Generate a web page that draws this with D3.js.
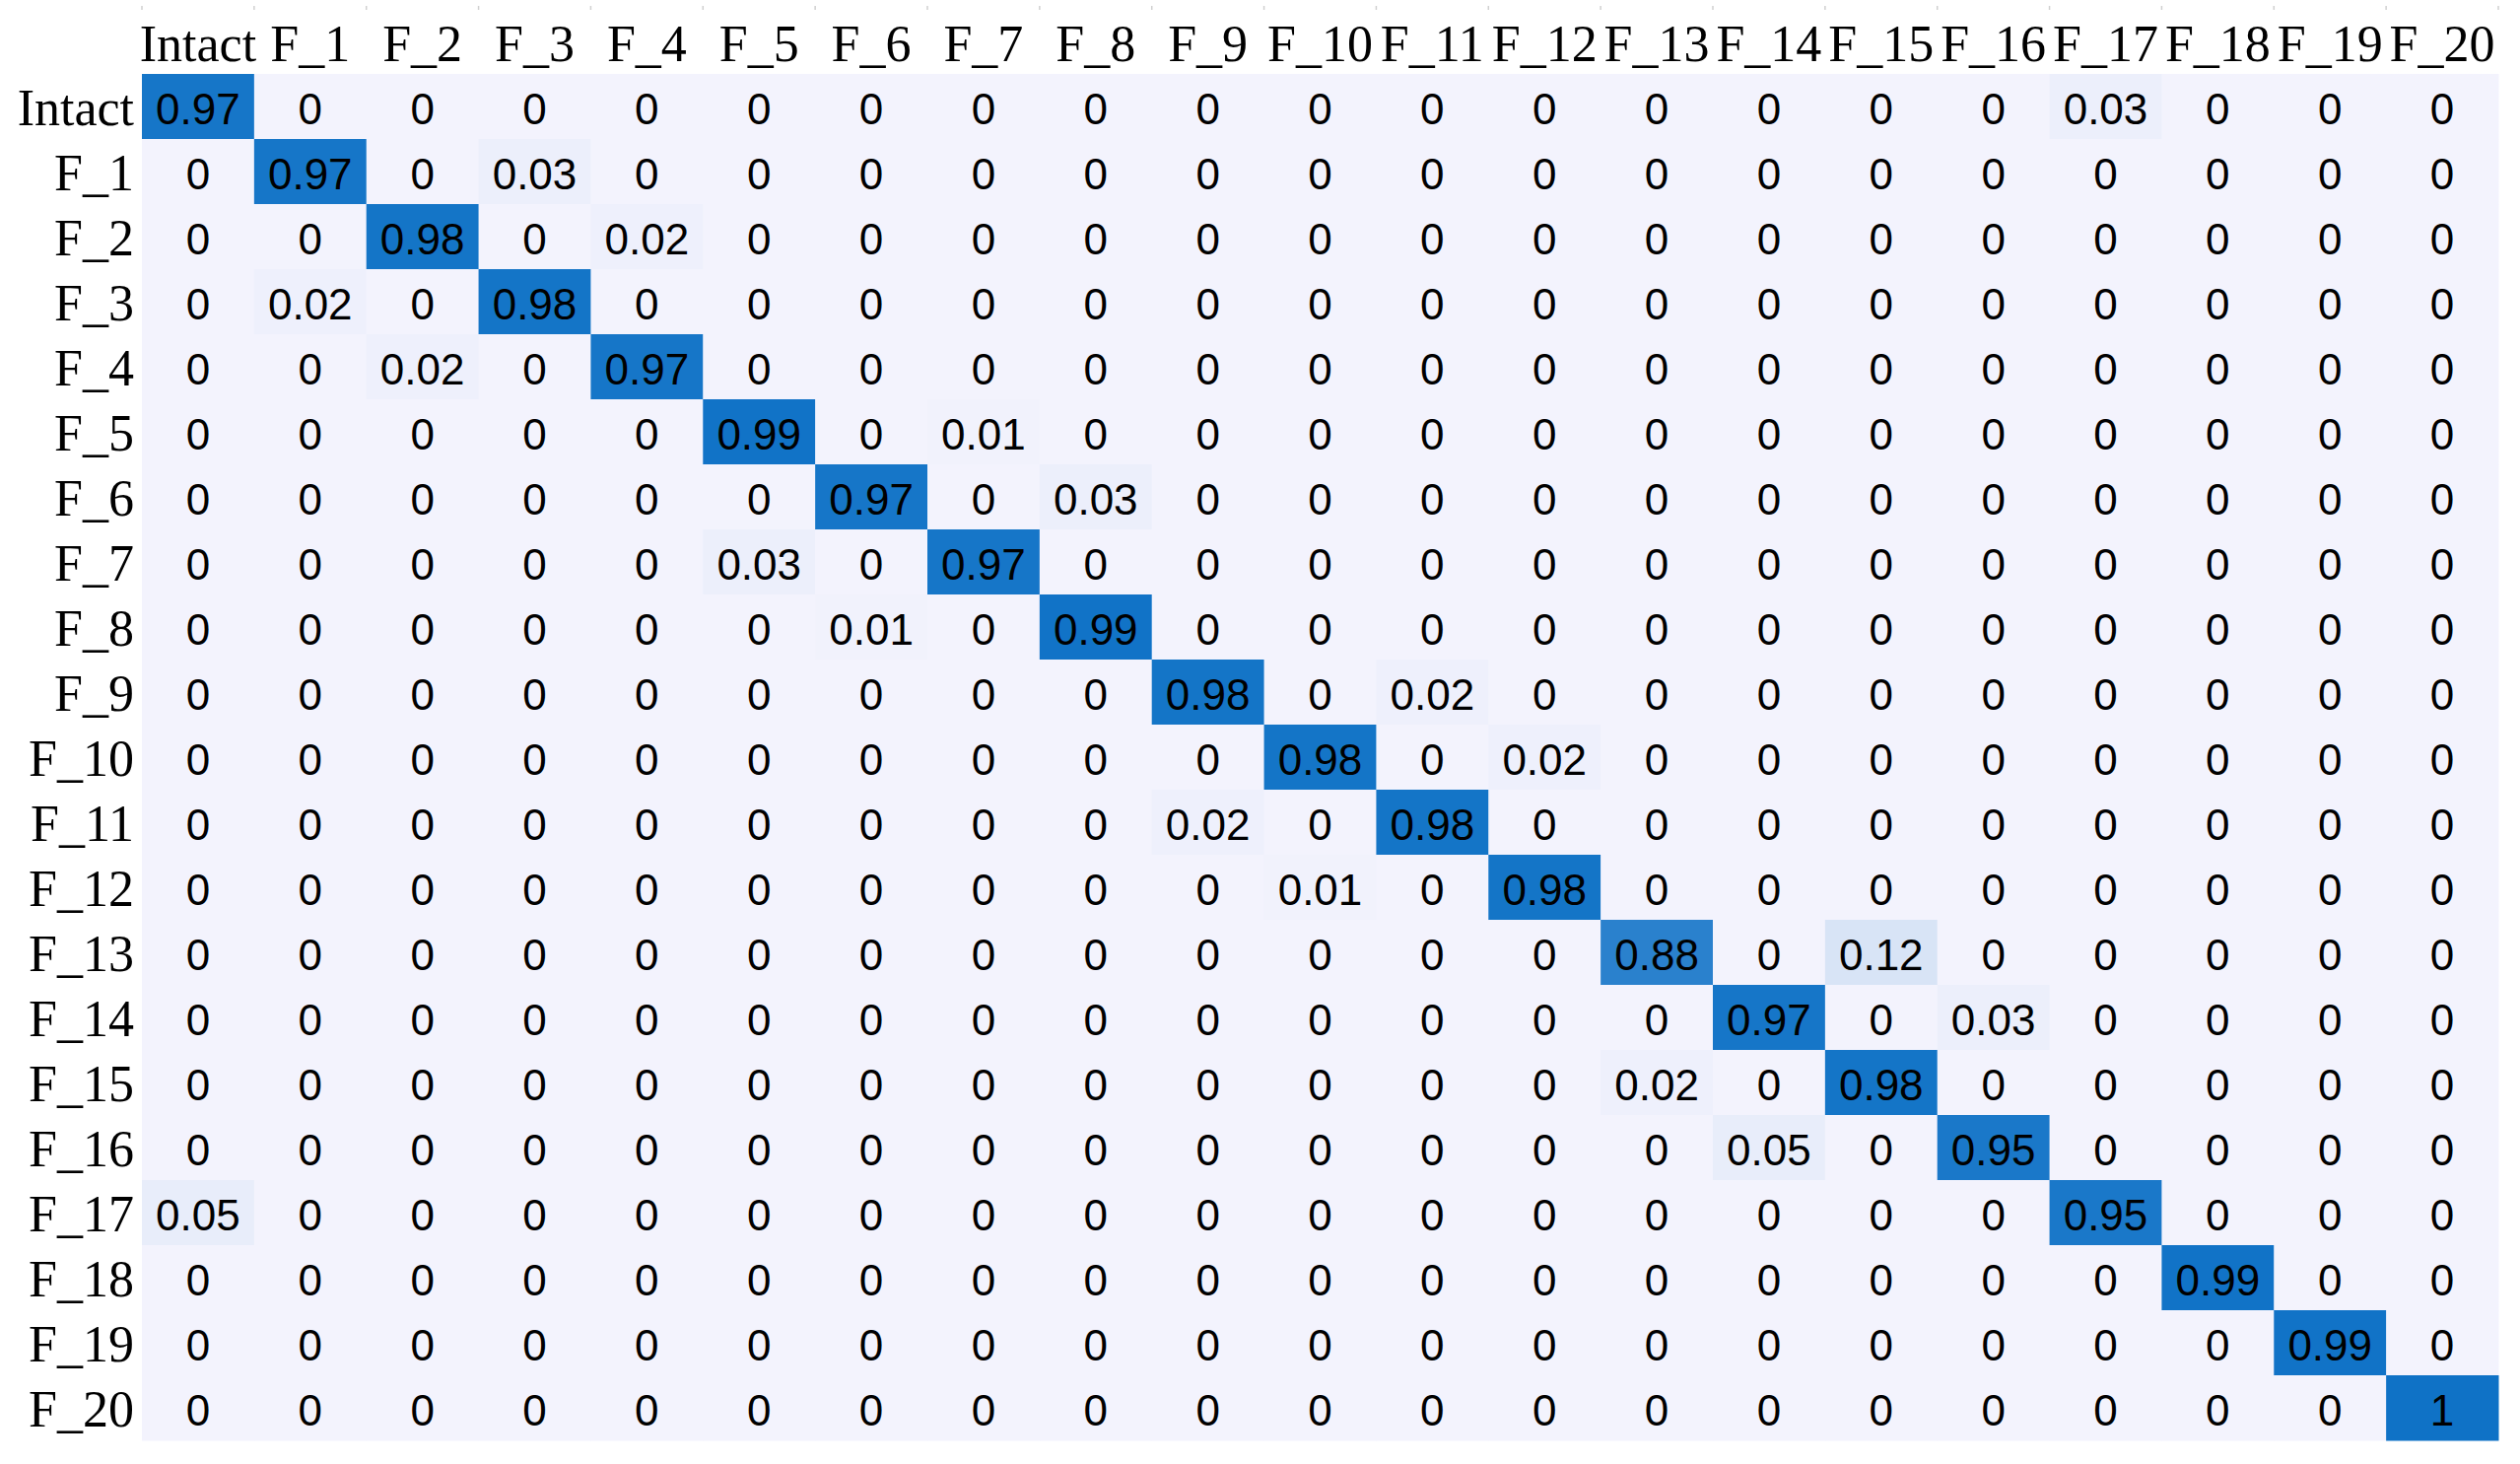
<!DOCTYPE html>
<meta charset="utf-8">
<title>Confusion Matrix</title>
<style>
  body { margin: 0; background: #fff; }
</style>
<body>
<script src="https://d3js.org/d3.v7.min.js"></script>
<script>

var width = 2557,
    height = 1485;

// class labels (rows = true class, columns = predicted class)
var labels = ["Intact", "F_1", "F_2", "F_3", "F_4", "F_5", "F_6", "F_7", "F_8", "F_9", "F_10",
              "F_11", "F_12", "F_13", "F_14", "F_15", "F_16", "F_17", "F_18", "F_19", "F_20"];

var rowIntact = [0.97,0,0,0,0,0,0,0,0,0,0,0,0,0,0,0,0,0.03,0,0,0];
var rowF1  = [0,0.97,0,0.03,0,0,0,0,0,0,0,0,0,0,0,0,0,0,0,0,0];
var rowF2  = [0,0,0.98,0,0.02,0,0,0,0,0,0,0,0,0,0,0,0,0,0,0,0];
var rowF3  = [0,0.02,0,0.98,0,0,0,0,0,0,0,0,0,0,0,0,0,0,0,0,0];
var rowF4  = [0,0,0.02,0,0.97,0,0,0,0,0,0,0,0,0,0,0,0,0,0,0,0];
var rowF5  = [0,0,0,0,0,0.99,0,0.01,0,0,0,0,0,0,0,0,0,0,0,0,0];
var rowF6  = [0,0,0,0,0,0,0.97,0,0.03,0,0,0,0,0,0,0,0,0,0,0,0];
var rowF7  = [0,0,0,0,0,0.03,0,0.97,0,0,0,0,0,0,0,0,0,0,0,0,0];
var rowF8  = [0,0,0,0,0,0,0.01,0,0.99,0,0,0,0,0,0,0,0,0,0,0,0];
var rowF9  = [0,0,0,0,0,0,0,0,0,0.98,0,0.02,0,0,0,0,0,0,0,0,0];
var rowF10 = [0,0,0,0,0,0,0,0,0,0,0.98,0,0.02,0,0,0,0,0,0,0,0];
var rowF11 = [0,0,0,0,0,0,0,0,0,0.02,0,0.98,0,0,0,0,0,0,0,0,0];
var rowF12 = [0,0,0,0,0,0,0,0,0,0,0.01,0,0.98,0,0,0,0,0,0,0,0];
var rowF13 = [0,0,0,0,0,0,0,0,0,0,0,0,0,0.88,0,0.12,0,0,0,0,0];
var rowF14 = [0,0,0,0,0,0,0,0,0,0,0,0,0,0,0.97,0,0.03,0,0,0,0];
var rowF15 = [0,0,0,0,0,0,0,0,0,0,0,0,0,0.02,0,0.98,0,0,0,0,0];
var rowF16 = [0,0,0,0,0,0,0,0,0,0,0,0,0,0,0.05,0,0.95,0,0,0,0];
var rowF17 = [0.05,0,0,0,0,0,0,0,0,0,0,0,0,0,0,0,0,0.95,0,0,0];
var rowF18 = [0,0,0,0,0,0,0,0,0,0,0,0,0,0,0,0,0,0,0.99,0,0];
var rowF19 = [0,0,0,0,0,0,0,0,0,0,0,0,0,0,0,0,0,0,0,0.99,0];
var rowF20 = [0,0,0,0,0,0,0,0,0,0,0,0,0,0,0,0,0,0,0,0,1];

var rows = [rowIntact, rowF1, rowF2, rowF3, rowF4, rowF5, rowF6, rowF7, rowF8, rowF9, rowF10,
            rowF11, rowF12, rowF13, rowF14, rowF15, rowF16, rowF17, rowF18, rowF19, rowF20];

// flatten into cells
var cells = [];
rows.forEach(function(r, i) {
  r.forEach(function(v, j) {
    cells.push({row: labels[i], col: labels[j], value: v});
  });
});

var x = d3.scaleBand()
    .domain(labels)
    .range([144, 2535]);

var y = d3.scaleBand()
    .domain(labels)
    .range([75, 1461]);

var color = d3.scaleLinear()
    .domain([0, 1])
    .range(["#f3f3fd", "#0f72c6"])
    .interpolate(d3.interpolateRgb);

var svg = d3.select("body").append("svg")
    .attr("width", width)
    .attr("height", height)
    .style("display", "block");

svg.append("rect")
    .attr("width", width)
    .attr("height", height)
    .attr("fill", "#fff");

// faint tick marks along the top edge
svg.append("g")
  .selectAll("line")
    .data(d3.range(labels.length + 1))
  .enter().append("line")
    .attr("x1", function(d) { return 144 + d * x.bandwidth(); })
    .attr("x2", function(d) { return 144 + d * x.bandwidth(); })
    .attr("y1", 6)
    .attr("y2", 10)
    .attr("stroke", "#d0d0d0")
    .attr("stroke-width", 1.5);

svg.append("g")
  .selectAll("rect")
    .data(cells)
  .enter().append("rect")
    .attr("x", function(d) { return x(d.col); })
    .attr("y", function(d) { return y(d.row); })
    .attr("width", x.bandwidth() + 0.5)
    .attr("height", y.bandwidth() + 0.5)
    .attr("fill", function(d) { return color(d.value); });

svg.append("g")
  .selectAll("text")
    .data(cells)
  .enter().append("text")
    .attr("x", function(d) { return x(d.col) + x.bandwidth() / 2; })
    .attr("y", function(d) { return y(d.row) + y.bandwidth() / 2 + 18; })
    .attr("text-anchor", "middle")
    .style("font-family", "'Liberation Sans', Arial, sans-serif")
    .style("font-size", "44px")
    .attr("fill", "#000")
    .text(function(d) { return String(d.value); });

// column labels (predicted)
svg.append("g")
  .selectAll("text")
    .data(labels)
  .enter().append("text")
    .attr("x", function(d) { return x(d) + x.bandwidth() / 2; })
    .attr("y", 62)
    .attr("text-anchor", "middle")
    .style("font-family", "'Liberation Serif', 'Times New Roman', serif")
    .style("font-size", "52px")
    .text(function(d) { return d; });

// row labels (true)
svg.append("g")
  .selectAll("text")
    .data(labels)
  .enter().append("text")
    .attr("x", 136)
    .attr("y", function(d) { return y(d) + y.bandwidth() / 2 + 18.5; })
    .attr("text-anchor", "end")
    .style("font-family", "'Liberation Serif', 'Times New Roman', serif")
    .style("font-size", "52px")
    .text(function(d) { return d; });

</script>
